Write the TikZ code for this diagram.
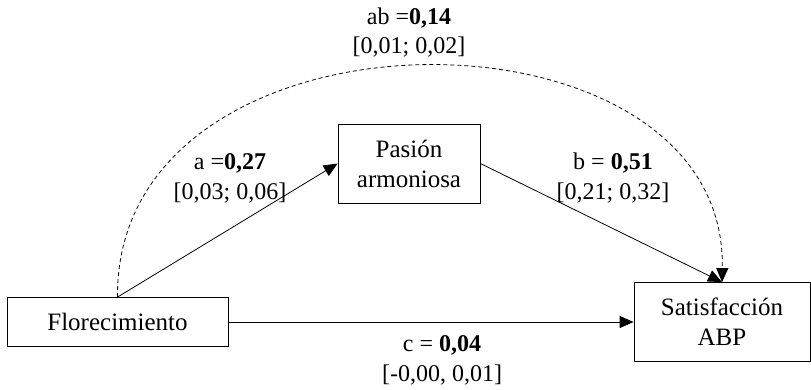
\documentclass[tikz,border=0pt]{standalone}
\usepackage{fontspec}
\setmainfont{Liberation Serif}
\usetikzlibrary{arrows.meta}
\begin{document}
\begin{tikzpicture}[x=1pt,y=-1pt,
  box/.style={draw=black,line width=0.8pt,fill=white,inner sep=0pt,align=center,font=\fontsize{25}{30}\selectfont},
  lbl/.style={inner sep=0pt,font=\fontsize{24}{28}\selectfont},
  arr/.style={line width=0.8pt,-{Triangle[length=14pt,width=12pt]}},
  dasharr/.style={line width=0.8pt,dash pattern=on 4pt off 3pt,-{Triangle[length=14pt,width=12pt]}}]
\useasboundingbox (0,0) rectangle (811,389);
\node[box,minimum width=221pt,minimum height=49pt] (flor) at (117.5,322) {Florecimiento};
\node[box,minimum width=142pt,minimum height=79pt] (pas) at (409,163.5) {Pasión\\armoniosa};
\node[box,minimum width=176pt,minimum height=79pt] (sat) at (722,322) {Satisfacción\\ABP};
\draw[dasharr] (flor.north) .. controls (115,-8) and (728,-8) .. (sat.north);
\draw[arr] (flor.north) -- (pas.west);
\draw[arr] (pas.east) -- (sat.north);
\draw[arr] (flor.east) -- (sat.west);
\node[lbl] (ab1) at (409,18) {ab =\textbf{0,14}};
\node[lbl] (ab2) at (409,47) {[0,01; 0,02]};
\node[lbl] (a1) at (230,163) {a =\textbf{0,27}};
\node[lbl] (a2) at (230,193) {[0,03; 0,06]};
\node[lbl] (b1) at (613,163) {b = \textbf{0,51}};
\node[lbl] (b2) at (613,193) {[0,21; 0,32]};
\node[lbl] (c1) at (442,345) {c = \textbf{0,04}};
\node[lbl] (c2) at (442,375) {[-0,00, 0,01]};
\end{tikzpicture}
\end{document}
